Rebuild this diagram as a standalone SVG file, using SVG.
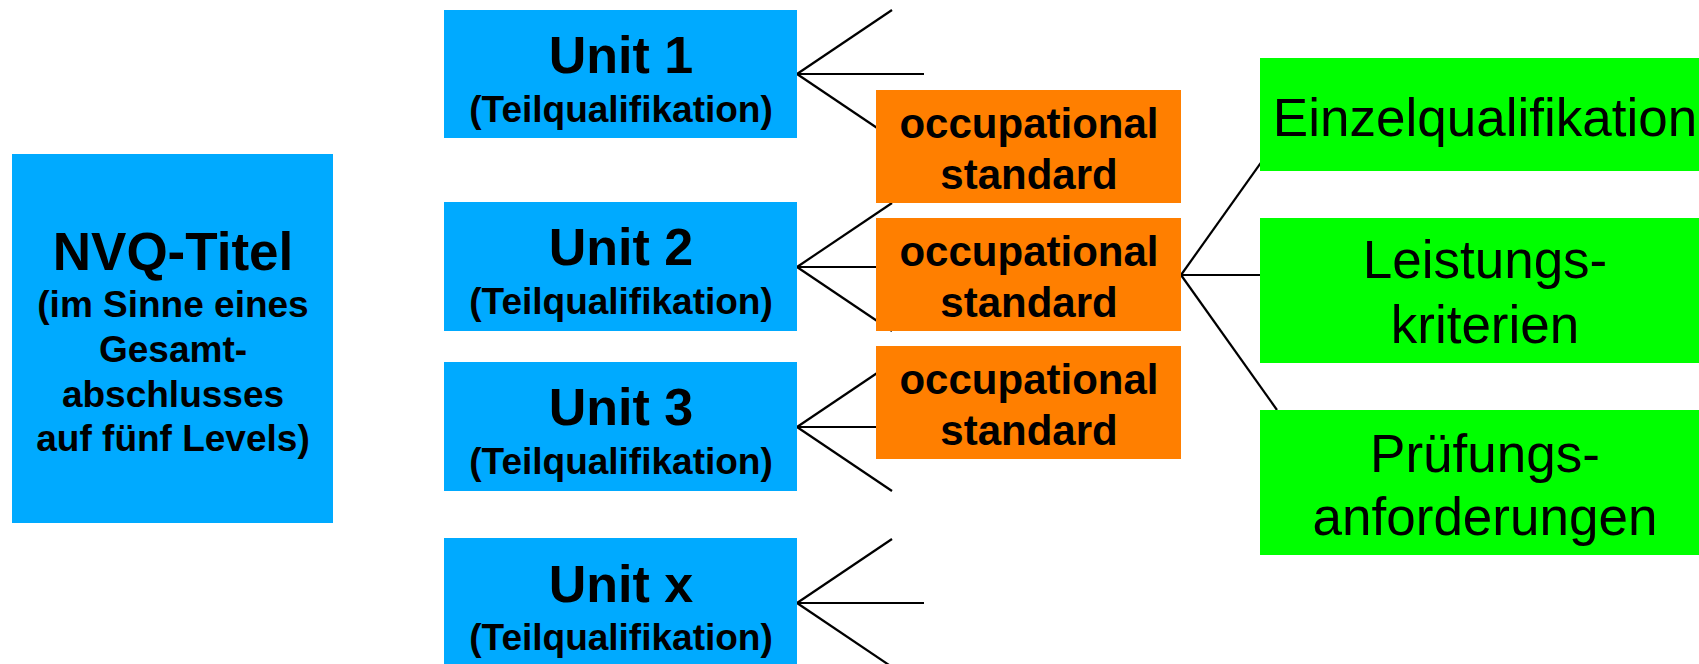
<svg xmlns="http://www.w3.org/2000/svg" width="1699" height="664" viewBox="0 0 1699 664">
<style>
.blue{fill:#00AAFF}
.orange{fill:#FF7F00}
.green{fill:#00FF00}
.b{font-family:"Liberation Sans",Arial,sans-serif;font-weight:bold;fill:#000;text-anchor:middle}
.r{font-family:"Liberation Sans",Arial,sans-serif;fill:#000;text-anchor:middle}
.big{font-size:52px}
.sm{font-size:37px}
.occ{font-size:42px}
.gr{font-size:53px}
.con line{stroke:#000;stroke-width:2.2;fill:none}
</style>
<rect width="1699" height="664" fill="#fff"/>
<g id="connectors" class="con">
<line x1="797" y1="74" x2="892" y2="10"/>
<line x1="797" y1="74" x2="924" y2="74"/>
<line x1="797" y1="74" x2="892" y2="138"/>
<line x1="797" y1="267" x2="892" y2="203"/>
<line x1="797" y1="267" x2="924" y2="267"/>
<line x1="797" y1="267" x2="892" y2="331"/>
<line x1="797" y1="427" x2="892" y2="363"/>
<line x1="797" y1="427" x2="924" y2="427"/>
<line x1="797" y1="427" x2="892" y2="491"/>
<line x1="797" y1="603" x2="892" y2="539"/>
<line x1="797" y1="603" x2="924" y2="603"/>
<line x1="797" y1="603" x2="892" y2="667"/>
<line x1="1181" y1="275" x2="1277" y2="140"/>
<line x1="1181" y1="275" x2="1262" y2="275"/>
<line x1="1181" y1="275" x2="1277" y2="410"/>
</g>
<g id="nvq">
<rect class="blue" x="12" y="154" width="321" height="369"/>
<text class="b big" x="173" y="270" style="font-size:53px">NVQ-Titel</text>
<text class="b sm" x="173" y="317">(im Sinne eines</text>
<text class="b sm" x="173" y="362">Gesamt-</text>
<text class="b sm" x="173" y="407">abschlusses</text>
<text class="b sm" x="173" y="451">auf fünf Levels)</text>
</g>
<g id="unit1">
<rect class="blue" x="444" y="10" width="353" height="128"/>
<text class="b big" x="621" y="73">Unit 1</text>
<text class="b sm" x="621" y="122">(Teilqualifikation)</text>
</g>
<g id="unit2">
<rect class="blue" x="444" y="202" width="353" height="129"/>
<text class="b big" x="621" y="265">Unit 2</text>
<text class="b sm" x="621" y="314">(Teilqualifikation)</text>
</g>
<g id="unit3">
<rect class="blue" x="444" y="362" width="353" height="129"/>
<text class="b big" x="621" y="425">Unit 3</text>
<text class="b sm" x="621" y="474">(Teilqualifikation)</text>
</g>
<g id="unitx">
<rect class="blue" x="444" y="538" width="353" height="130"/>
<text class="b big" x="621" y="602">Unit x</text>
<text class="b sm" x="621" y="650">(Teilqualifikation)</text>
</g>
<g id="occ1">
<rect class="orange" x="876" y="90" width="305" height="113"/>
<text class="b occ" x="1029" y="138">occupational</text>
<text class="b occ" x="1029" y="189">standard</text>
</g>
<g id="occ2">
<rect class="orange" x="876" y="218" width="305" height="113"/>
<text class="b occ" x="1029" y="266">occupational</text>
<text class="b occ" x="1029" y="317">standard</text>
</g>
<g id="occ3">
<rect class="orange" x="876" y="346" width="305" height="113"/>
<text class="b occ" x="1029" y="394">occupational</text>
<text class="b occ" x="1029" y="445">standard</text>
</g>
<g id="einzel">
<rect class="green" x="1260" y="58" width="450" height="113"/>
<text class="r gr" x="1485" y="136">Einzelqualifikation</text>
</g>
<g id="leistung">
<rect class="green" x="1260" y="218" width="450" height="145"/>
<text class="r gr" x="1485" y="278">Leistungs-</text>
<text class="r gr" x="1485" y="343">kriterien</text>
</g>
<g id="pruefung">
<rect class="green" x="1260" y="410" width="450" height="145"/>
<text class="r gr" x="1485" y="472">Prüfungs-</text>
<text class="r gr" x="1485" y="535">anforderungen</text>
</g>
</svg>
